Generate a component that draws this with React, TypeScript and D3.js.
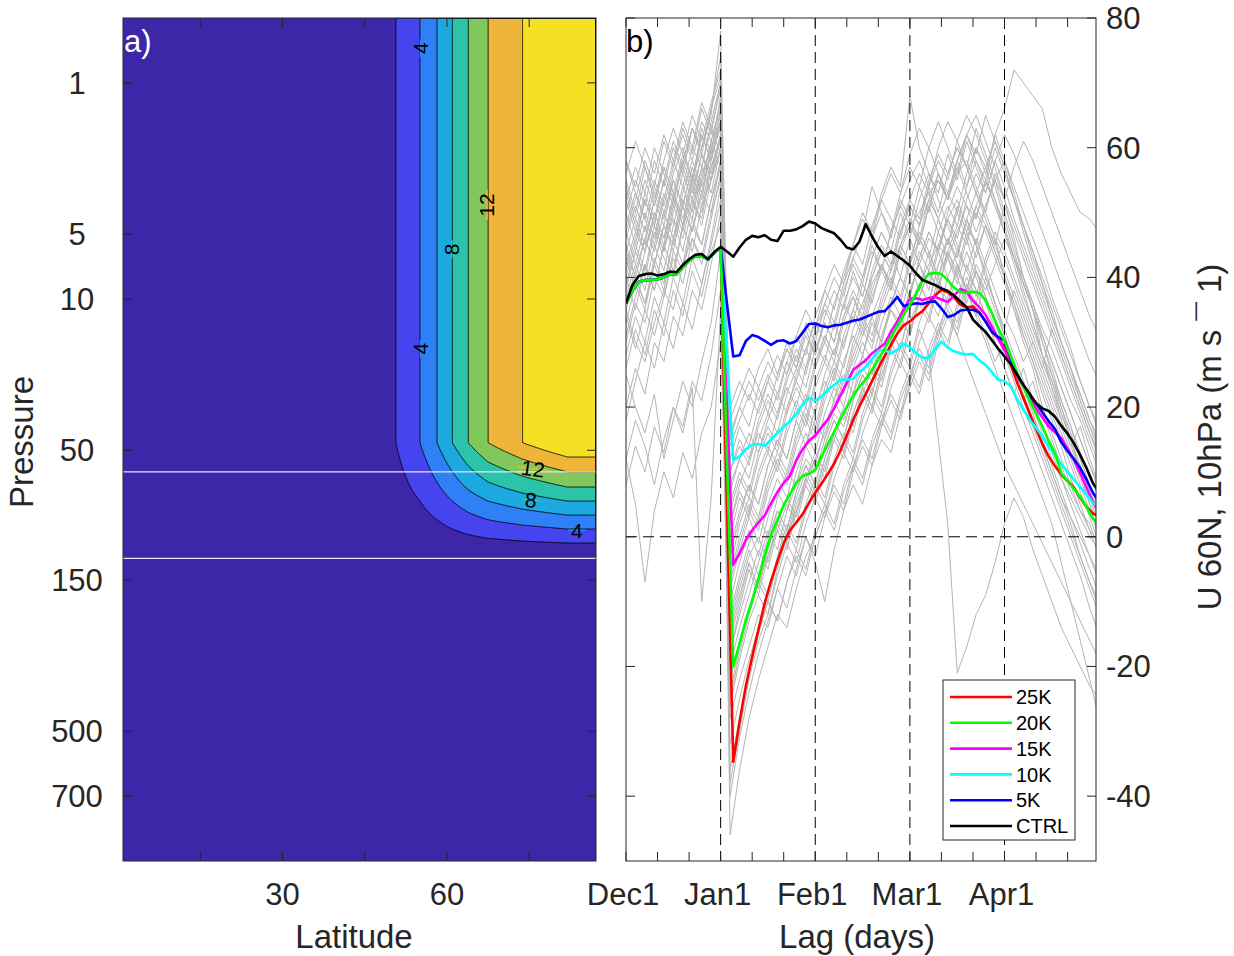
import React, { useMemo } from "react";
import * as d3 from "d3";

// ---------------- panel a: idealised heating (filled contours) ----------------
const contourLevels = [2, 4, 6, 8, 10, 12, 14];
const bandColors = ["#3e26a8", "#4544ee", "#2f80f7", "#1ca9df", "#2cc3ab", "#80c85c", "#efb43a", "#f5e024"];
// latitude where each contour stands vertical in the upper levels
const levelLatitudes = [50.7, 55.1, 58.2, 61.0, 63.9, 67.5, 73.8];
// model level where each contour meets the pole
const polarLevels = [24.29, 23.64, 23.0, 22.35, 21.7, 21.0, 20.31];
const fieldZeroLat = 45;
const poleLat = 82;
const poleValue = 16;
const fullLevel = 19.65;
const zeroLevel = 24.95;

const latTicks = [15, 30, 45, 60, 75];
const latLabels = [30, 60];
const pressureLabels = [1, 5, 10, 50, 150, 500, 700];
const pressureLevels = [3, 10, 13, 20, 26, 33, 36];
const markerLevels = [21, 25];

const contourLabels = [
  { value: 4, lat: 55.2, lev: 1.4, angle: -90 },
  { value: 4, lat: 55.2, lev: 15.3, angle: -90 },
  { value: 8, lat: 60.9, lev: 10.7, angle: -90 },
  { value: 12, lat: 67.3, lev: 8.65, angle: -90 },
  { value: 12, lat: 75.7, lev: 20.85, angle: 8 },
  { value: 8, lat: 75.3, lev: 22.3, angle: 4 },
  { value: 4, lat: 83.7, lev: 23.7, angle: 0 },
];

// ---------------- panel b: U 60N 10hPa ----------------
const monthDays = [-30, 0, 30, 60, 90];
const monthLabels = ["Dec1", "Jan1", "Feb1", "Mar1", "Apr1"];
const dayTicks = [-30, -20, -10, 0, 10, 20, 30, 40, 50, 60, 70, 80, 90, 100, 110];
const uTicks = [-40, -20, 0, 20, 40, 60, 80];

// coloured runs, every 2 days from day -30
const ctrlPre = [36.0, 38.8, 40.2, 40.5, 40.6, 40.3, 40.5, 40.9, 40.8, 41.9, 42.8, 43.5, 43.6, 42.8, 43.9, 44.7];
const forcedPre = [36.0, 38.0, 39.3, 39.6, 39.6, 39.7, 40.0, 40.5, 40.5, 41.6, 42.6, 43.3, 43.3, 42.8, 43.8, 44.6];
const ctrlPost = [
  44.0, 43.2, 44.6, 45.8, 46.4, 46.2, 46.5, 45.8, 45.6, 47.2,
  47.2, 47.4, 47.9, 48.6, 48.3, 47.6, 47.2, 46.8, 45.8, 44.6,
  44.3, 45.5, 48.2, 46.3, 44.6, 43.3, 44.0, 43.3, 42.6, 41.8,
  40.6, 39.6, 39.2, 38.8, 38.3, 37.9, 37.2, 36.3, 35.4, 33.5,
  32.5, 31.6, 30.3, 29.0, 27.8, 26.6, 25.0, 23.4, 22.0, 20.6,
  19.8, 19.4, 18.5, 17.1, 15.9, 14.4, 12.6, 10.6, 8.3, 6.9,
];
const k5Post = [
  36.0, 27.8, 28.0, 30.2, 31.1, 30.8, 30.2, 29.6, 30.2, 30.3,
  29.8, 30.2, 31.5, 32.8, 32.9, 32.5, 32.3, 32.6, 32.7, 33.0,
  33.3, 33.5, 33.9, 34.3, 34.7, 34.8, 35.8, 37.0, 35.6, 35.8,
  36.0, 35.9, 36.2, 36.3, 35.2, 33.9, 34.2, 34.9, 35.0, 35.0,
  34.6, 33.2, 31.6, 30.8, 30.3, 27.5, 25.0, 23.2, 21.8, 20.6,
  19.2, 17.8, 16.6, 14.6, 13.2, 12.0, 10.6, 8.8, 6.8, 5.4,
];
const k10Post = [
  28.0, 11.8, 12.4, 13.5, 14.2, 14.3, 14.0, 15.0, 16.0, 17.0,
  17.8, 19.0, 20.4, 21.4, 21.0, 21.6, 22.7, 23.4, 24.2, 24.2,
  24.4, 25.4, 26.2, 27.4, 28.7, 28.8, 28.3, 28.8, 29.8, 29.2,
  28.3, 27.6, 27.6, 29.0, 30.1, 29.2, 28.6, 28.3, 28.1, 28.2,
  27.2, 26.5, 25.4, 24.2, 24.0, 23.2, 21.2, 19.6, 18.0, 16.8,
  15.5, 13.9, 12.6, 11.2, 10.0, 8.8, 7.6, 6.5, 5.2, 4.6,
];
const k15Post = [
  20.0, -4.3, -2.6, -0.5, 1.0, 2.2, 3.3, 5.2, 6.9, 8.3,
  9.4, 11.8, 13.5, 14.8, 15.6, 16.9, 18.1, 19.8, 21.8, 23.7,
  25.7, 26.5, 27.2, 28.3, 29.0, 29.8, 31.6, 33.2, 35.0, 36.7,
  36.8, 36.5, 36.8, 37.0, 36.6, 36.2, 37.2, 38.2, 37.8, 36.4,
  35.4, 34.2, 32.4, 30.5, 28.8, 26.8, 25.0, 23.2, 21.4, 19.8,
  18.4, 17.0, 16.1, 15.2, 13.6, 11.8, 9.8, 7.6, 5.4, 3.9,
];
const k20Post = [
  12.0, -20.0, -16.5, -12.8, -9.9, -6.5, -2.8, 0.3, 2.6, 4.9,
  6.6, 8.3, 9.4, 9.7, 10.3, 12.4, 14.3, 16.2, 18.2, 20.0,
  21.8, 23.1, 24.3, 25.7, 27.4, 29.0, 30.8, 32.5, 34.2, 35.8,
  37.4, 39.5, 40.5, 40.7, 40.5, 39.6, 38.4, 37.8, 37.6, 37.8,
  37.6, 36.5, 34.5, 32.2, 30.2, 27.8, 25.3, 23.1, 21.0, 19.0,
  17.0, 14.8, 12.9, 9.8, 8.6, 7.4, 6.2, 4.6, 2.8, 2.0,
];
const k25Post = [
  5.0, -34.7, -28.5, -23.0, -18.5, -14.3, -10.2, -6.8, -3.8, -1.0,
  1.0, 2.2, 3.5, 5.2, 6.8, 8.2, 9.7, 11.3, 13.3, 15.6,
  18.0, 20.1, 22.0, 24.0, 26.0, 27.9, 29.6, 31.3, 32.6, 33.2,
  34.1, 34.8, 36.0, 37.2, 38.1, 37.7, 36.9, 35.8, 35.4, 35.5,
  34.6, 33.2, 31.6, 30.6, 29.2, 26.5, 23.8, 21.4, 19.0, 16.6,
  14.3, 12.4, 10.9, 9.6, 8.6, 7.6, 6.0, 4.6, 3.6, 3.2,
];

// ensemble members (grey), every 3 days from day -30
const greyMembers = [
  [42,47,44,50,46,53,49,56,52,60,64, -38,-30,-22,-16,-12,-5,0,4,9,12,16,20,24,27,31,34,38,42,45,48,50,53,55,52,56,58,54,50,46,40,35,30,26,20,16,12,8,4,2,-2],
  [50,45,52,48,55,51,58,54,62,58,66, -12,-6,-1,3,0,6,10,8,14,18,15,21,25,22,28,33,30,36,40,37,43,47,44,49,52,48,45,41,36,31,27,23,19,14,10,6,2,-3,-7,-10],
  [38,44,40,47,43,40,48,52,49,57,61, -5,2,6,3,9,13,10,16,20,17,23,27,24,30,34,31,37,41,45,42,48,52,56,53,58,62,65,61,57,52,46,40,35,28,23,18,14,10,6,3],
  [55,50,57,53,49,56,60,55,63,59,68, -20,-14,-9,-4,1,-2,4,8,12,10,15,19,17,22,26,24,30,35,33,38,42,46,44,49,45,41,46,42,38,34,31,27,30,26,22,18,14,17,12,8],
  [30,36,33,40,37,44,41,48,45,52,58, 8,12,16,13,18,22,19,25,29,33,30,36,40,45,42,48,52,49,46,52,56,53,49,45,50,46,41,37,33,29,25,21,24,19,15,11,7,4,1,-1],
  [45,40,36,42,48,44,51,47,55,61,57, -15,-9,-4,-8,-2,3,0,6,10,7,12,16,13,19,23,20,26,30,34,31,37,41,38,44,48,45,51,55,52,48,43,38,33,28,25,20,15,10,5,0],
  [20,26,22,30,27,34,31,38,35,42,50, 2,8,12,16,13,19,23,20,26,30,27,33,29,35,40,44,41,47,51,55,58,54,60,64,61,65,62,58,54,49,44,39,35,30,25,21,17,13,9,6],
  [48,53,49,45,52,58,54,60,57,64,70, -28,-22,-17,-12,-14,-8,-3,-6,0,-4,-10,-2,4,8,5,11,15,13,19,23,27,24,30,34,31,37,41,38,42,46,43,39,35,30,26,21,17,12,8,5],
  [35,30,27,33,38,35,42,46,43,50,55, 12,17,14,20,24,21,27,31,28,34,38,35,41,45,50,47,53,57,54,68,60,56,52,48,44,49,45,40,36,32,28,24,20,16,12,9,6,3,0,-2],
  [52,57,53,60,56,52,58,63,59,55,62, 15,20,24,21,25,22,27,24,29,26,31,28,34,37,33,39,42,38,44,40,46,43,39,35,31,27,23,19,15,11,8,5,2,-1,-4,-7,-10,-13,-16,-19],
  [12,18,14,8,15,20,17,24,21,28,38, -18,-12,-7,-2,-5,1,5,2,8,12,9,15,19,16,22,26,23,29,33,36,39,42,45,43,47,51,49,55,62,66,72,70,68,66,60,56,53,50,49,47],
  [40,35,42,38,45,49,46,52,48,55,60, -46,-36,-28,-22,-17,-12,-14,-8,-3,0,4,8,5,11,15,12,18,22,19,25,29,26,32,36,33,39,35,31,27,30,26,22,18,14,10,6,3,0,-3,-6],
  [44,49,45,52,57,53,48,55,60,65,78, 5,10,7,13,17,14,20,24,21,27,31,28,34,38,35,41,45,42,48,52,49,55,59,56,60,57,53,49,45,41,37,33,29,25,21,17,13,9,5,2],
  [25,20,16,22,12,18,24,20,27,33,44, -22,-16,-11,-7,-10,-4,1,-2,4,8,5,11,15,12,18,22,19,25,29,26,32,28,15,2,-21,-17,-12,-9,-4,2,6,3,-2,-6,-10,-14,-17,-20,-23,-25],
  [58,53,49,55,51,57,62,58,64,61,66, -2,4,8,5,11,15,12,18,22,19,25,29,26,32,36,40,44,41,47,51,48,54,58,55,61,57,63,59,55,50,45,40,36,31,27,23,19,15,11,8],
  [33,39,35,42,38,46,51,47,53,50,58, 20,24,21,26,29,25,30,27,33,30,36,40,37,43,47,54,50,46,52,49,45,51,47,43,39,44,40,36,32,28,24,20,16,12,8,4,0,-4,-8,-12],
  [12,5,-7,4,10,6,13,9,16,20,30, -10,-4,1,-3,3,7,4,10,14,11,17,21,18,24,28,25,31,35,32,38,42,39,45,49,46,52,56,53,58,62,59,55,51,47,43,39,35,31,27,24],
  [47,42,48,44,50,55,51,57,53,59,63, -25,-18,-12,-7,-3,1,-2,4,8,5,11,15,12,18,22,19,25,29,26,32,36,33,39,43,40,46,50,47,43,39,35,31,27,23,19,15,11,7,3,-1],
  [36,41,46,42,48,45,52,49,56,60,64, 10,15,12,18,22,19,25,29,26,32,36,33,39,43,40,46,50,47,53,57,54,60,64,60,56,62,58,54,60,56,52,48,44,40,36,32,28,24,20,17],
  [18,24,30,26,33,29,36,32,39,45,52, -14,-8,-3,0,-4,2,6,3,9,13,10,16,20,17,23,27,24,30,34,31,37,41,38,44,40,36,41,37,33,29,25,21,17,13,9,5,1,-3,-7,-11],
  [53,48,44,50,46,52,57,53,59,56,62, 0,6,3,9,13,10,16,20,17,23,27,24,30,34,31,37,41,38,44,48,45,51,55,52,58,62,59,65,61,57,52,47,42,38,34,30,26,22,18,15],
  [28,34,30,37,33,40,36,43,39,46,54, 18,22,26,23,27,24,29,26,31,28,33,30,36,33,39,36,42,39,45,42,38,44,40,36,42,38,34,40,36,32,38,34,30,26,32,28,24,20,16,13],
  [8,14,10,17,13,20,16,23,-10,6,35, -32,-25,-19,-14,-10,-13,-7,-3,-6,0,4,1,7,11,8,14,18,15,21,25,22,28,32,29,35,39,36,42,46,43,39,35,31,27,23,19,15,11,7,4],
  [40,45,41,48,44,51,47,54,50,57,62, -6,0,5,2,8,12,9,15,19,16,22,26,23,29,33,30,36,40,37,43,47,44,40,46,42,38,34,30,26,22,18,14,10,6,2,-4,-10,-16,-22,-28],
  [47,52,58,54,61,57,63,59,66,62,70, -16,-10,-4,-8,-1,4,1,7,11,8,14,18,15,21,25,22,28,32,29,35,39,36,42,46,43,49,53,50,56,52,48,44,40,36,32,28,24,20,16,12],
  [39,44,50,46,53,49,44,51,57,63,59, -26,-19,-13,-9,-12,-6,-1,-4,2,6,3,9,13,10,16,20,17,23,27,24,30,34,31,37,41,38,44,48,45,51,47,43,39,35,31,27,23,19,15,11],
  [56,61,57,52,58,63,59,65,61,67,72, 4,9,6,12,16,13,19,23,20,26,30,27,33,37,34,40,44,41,47,51,48,54,50,56,60,57,53,57,52,47,42,37,33,28,24,19,15,10,6,2],
  [43,38,44,49,45,52,48,55,51,58,64, -8,-2,3,-1,5,9,6,12,16,13,19,23,20,26,30,27,33,37,34,40,44,41,47,51,48,54,58,55,51,47,43,39,35,31,27,23,19,15,11,7],
  [26,32,28,35,31,38,34,41,37,44,48, -36,-28,-21,-15,-10,-13,-7,-2,-5,1,5,2,8,12,9,15,19,16,22,26,23,29,33,30,36,40,37,43,47,44,40,36,32,28,24,20,16,12,8,4],
  [50,55,51,58,54,60,56,63,59,66,74, 14,18,22,19,24,28,25,31,35,32,38,42,39,45,49,46,52,56,53,59,63,60,56,52,57,53,49,55,51,47,43,40,36,32,29,25,21,18,14,10],
  [34,29,35,31,37,43,39,46,42,49,56, -3,3,8,5,11,15,12,18,14,20,24,21,27,31,28,34,30,36,40,37,43,47,44,50,54,51,47,51,55,58,54,50,46,42,37,33,29,24,20,16],
  [46,51,47,54,50,46,53,58,54,61,67, -18,-11,-5,-9,-3,2,-1,5,9,6,12,16,13,19,23,20,26,30,27,33,37,34,40,44,41,47,51,48,44,40,36,31,27,22,18,14,9,5,1,-3],
  [58,54,60,56,62,58,64,60,67,63,69, 7,12,9,15,19,16,22,26,23,29,33,30,36,40,37,43,47,44,50,46,52,56,53,59,55,61,57,53,58,54,49,45,41,37,33,29,25,21,17,14],
  [31,37,42,38,45,41,48,44,51,55,60, -24,-17,-11,-6,-9,-3,2,-1,5,9,6,12,16,13,19,23,20,26,30,27,33,37,34,40,44,41,38,34,30,26,22,18,14,10,6,2,-2,-6,-11,-15],
  [44,40,46,52,48,55,51,57,53,60,65, 10,14,11,17,21,18,24,28,25,31,35,32,38,42,39,45,41,47,51,48,54,50,56,52,58,54,60,56,62,58,53,48,44,39,35,30,26,22,18,14],
  [37,42,38,45,41,48,54,50,57,53,60, -40,-31,-24,-18,-13,-8,-11,-5,0,-3,3,7,4,10,14,11,17,21,18,24,28,25,31,35,32,38,42,39,35,31,27,23,19,15,11,7,3,-1,-5,-9],
  [52,47,53,49,55,61,57,63,60,66,71, -7,-1,4,1,7,11,8,14,18,15,21,25,22,28,32,29,35,39,36,42,46,43,49,53,50,56,60,57,61,57,52,48,43,39,34,30,26,21,17,13],
  [41,46,52,48,44,50,56,52,59,55,62, 2,7,4,10,14,11,17,21,18,24,28,25,31,35,32,38,42,39,45,49,46,52,49,45,51,47,43,48,44,40,36,32,28,24,20,16,12,8,4,0],
  [54,49,55,51,57,53,59,55,62,58,64, -13,-7,-2,-6,0,4,1,7,11,8,14,18,15,21,25,22,28,32,29,35,39,36,42,46,43,49,45,51,55,52,57,61,58,54,50,46,42,38,34,31],
  [35,40,36,43,39,46,42,49,45,52,57, 16,20,17,23,19,25,29,26,32,28,34,38,35,41,37,43,47,44,40,46,42,38,44,40,36,42,38,34,30,26,22,26,21,17,13,9,5,1,-3,-7],
];

const runNames = ["25K", "20K", "15K", "10K", "5K", "CTRL"];
const runColors = ["#ff0000", "#00ff00", "#ff00ff", "#00ffff", "#0000ff", "#000000"];
const runValues = [
  [...forcedPre, ...k25Post],
  [...forcedPre, ...k20Post],
  [...forcedPre, ...k15Post],
  [...forcedPre, ...k10Post],
  [...forcedPre, ...k5Post],
  [...ctrlPre, ...ctrlPost],
];
const drawOrder = [0, 2, 3, 4, 1, 5];

const FONT = "'Liberation Sans', Arial, Helvetica, sans-serif";
const AX = "#262626";

const pa = { left: 123, right: 596, top: 18, bottom: 861 };
const pb = { left: 626, right: 1096, top: 18, bottom: 861 };

export default function App() {
  const xLat = d3.scaleLinear().domain([0.9, 87.2]).range([pa.left, pa.right]);
  const yLev = d3.scaleLinear().domain([0, 39]).range([pa.top, pa.bottom]);
  const xDay = d3.scaleLinear().domain([-30, 119]).range([pb.left, pb.right]);
  const yU = d3.scaleLinear().domain([-50, 80]).range([pb.bottom, pb.top]);

  const contourShapes = useMemo(() => {
    const aOfLat = d3
      .scaleLinear()
      .domain([fieldZeroLat, ...levelLatitudes, poleLat])
      .range([0, ...contourLevels, poleValue])
      .clamp(true);
    const polar = polarLevels
      .map((l, i) => ({ l, v: contourLevels[i] / poleValue }))
      .sort((a, b) => a.l - b.l);
    const bOfLevel = d3
      .scaleLinear()
      .domain([fullLevel, ...polar.map((d) => d.l), zeroLevel])
      .range([1, ...polar.map((d) => d.v), 0])
      .clamp(true);
    const nx = Math.round(pa.right - pa.left);
    const ny = Math.round(pa.bottom - pa.top);
    const values: number[] = new Array(nx * ny);
    for (let j = 0; j < ny; j++) {
      const b = bOfLevel(yLev.invert(pa.top + j + 0.5));
      for (let i = 0; i < nx; i++) {
        values[j * nx + i] = aOfLat(xLat.invert(pa.left + i + 0.5)) * b;
      }
    }
    const polys = d3.contours().size([nx, ny]).thresholds(contourLevels)(values);
    const path = d3.geoPath();
    return polys.map((p) => path(p as any) || "");
  }, []);

  const greyLine = d3
    .line<number>()
    .x((_, i) => xDay(-30 + 3 * i))
    .y((d) => yU(d));
  const runLine = d3
    .line<number>()
    .x((_, i) => xDay(-30 + 2 * i))
    .y((d) => yU(d));

  const tick = 9;
  const tickFont = 31;
  const labelFont = 33;

  return (
    <svg
      width={1234}
      height={956}
      style={{ position: "absolute", left: 0, top: 0, fontFamily: FONT, background: "#fff" }}
    >
      <defs>
        <clipPath id="clipA">
          <rect x={pa.left} y={pa.top} width={pa.right - pa.left} height={pa.bottom - pa.top} />
        </clipPath>
        <clipPath id="clipB">
          <rect x={pb.left} y={pb.top} width={pb.right - pb.left} height={pb.bottom - pb.top} />
        </clipPath>
      </defs>

      {/* ---------------- panel a ---------------- */}
      <g clipPath="url(#clipA)">
        <rect x={pa.left} y={pa.top} width={pa.right - pa.left} height={pa.bottom - pa.top} fill={bandColors[0]} />
        <g transform={`translate(${pa.left},${pa.top})`}>
          {contourShapes.map((d, i) => (
            <path key={"f" + i} d={d} fill={bandColors[i + 1]} stroke="none" />
          ))}
          {contourShapes.map((d, i) => (
            <path key={"s" + i} d={d} fill="none" stroke="#000" strokeWidth={0.9} />
          ))}
        </g>
        {markerLevels.map((l) => (
          <line key={l} x1={pa.left} x2={pa.right} y1={yLev(l)} y2={yLev(l)} stroke="#e6e4f2" strokeWidth={1.2} />
        ))}
        {contourLabels.map((c, i) => {
          const x = xLat(c.lat);
          const y = yLev(c.lev);
          const w = String(c.value).length * 12 + 6;
          return (
            <g key={i} transform={`rotate(${c.angle},${x},${y})`}>
              {/* break in the contour line under the label */}
              <rect x={x - w / 2} y={y - 0.8} width={w} height={1.6} fill={bandColors[c.value / 2]} />
              <text x={x} y={y} textAnchor="middle" dominantBaseline="central" fontSize={21} fill="#000">
                {c.value}
              </text>
            </g>
          );
        })}
      </g>
      <rect x={pa.left} y={pa.top} width={pa.right - pa.left} height={pa.bottom - pa.top} fill="none" stroke={AX} strokeWidth={1} />
      {latTicks.map((t) => (
        <g key={t} stroke={AX}>
          <line x1={xLat(t)} x2={xLat(t)} y1={pa.bottom} y2={pa.bottom - tick} />
          <line x1={xLat(t)} x2={xLat(t)} y1={pa.top} y2={pa.top + tick} />
        </g>
      ))}
      {latLabels.map((t) => (
        <text key={t} x={xLat(t)} y={905} textAnchor="middle" fontSize={tickFont} fill={AX}>
          {t}
        </text>
      ))}
      {pressureLevels.map((l, i) => (
        <g key={l}>
          <line x1={pa.left} x2={pa.left + tick} y1={yLev(l)} y2={yLev(l)} stroke={AX} />
          <line x1={pa.right} x2={pa.right - tick} y1={yLev(l)} y2={yLev(l)} stroke={AX} />
          <text x={77} y={yLev(l)} dy="0.35em" textAnchor="middle" fontSize={tickFont} fill={AX}>
            {pressureLabels[i]}
          </text>
        </g>
      ))}
      <text x={354} y={948} textAnchor="middle" fontSize={labelFont} fill={AX}>
        Latitude
      </text>
      <text
        transform={`translate(33,442) rotate(-90)`}
        textAnchor="middle"
        fontSize={labelFont}
        fill={AX}
      >
        Pressure
      </text>
      <text x={124} y={52} fontSize={tickFont} fill="#fff">
        a)
      </text>

      {/* ---------------- panel b ---------------- */}
      <rect x={pb.left} y={pb.top} width={pb.right - pb.left} height={pb.bottom - pb.top} fill="#fff" />
      <g clipPath="url(#clipB)">
        {greyMembers.map((m, i) => (
          <path key={i} d={greyLine(m) || ""} fill="none" stroke="#b5b5b5" strokeWidth={1} />
        ))}
        {monthDays.slice(1).map((d) => (
          <line key={d} x1={xDay(d)} x2={xDay(d)} y1={pb.top} y2={pb.bottom} stroke="#000" strokeWidth={1} strokeDasharray="11,6" />
        ))}
        <line x1={pb.left} x2={pb.right} y1={yU(0)} y2={yU(0)} stroke="#000" strokeWidth={1} strokeDasharray="11,6" />
        {drawOrder.map((k) => (
          <path
            key={k}
            d={runLine(runValues[k]) || ""}
            fill="none"
            stroke={runColors[k]}
            strokeWidth={2.6}
            strokeLinejoin="round"
          />
        ))}
      </g>
      <rect x={pb.left} y={pb.top} width={pb.right - pb.left} height={pb.bottom - pb.top} fill="none" stroke={AX} strokeWidth={1} />
      {dayTicks.map((d) => (
        <g key={d} stroke={AX}>
          <line x1={xDay(d)} x2={xDay(d)} y1={pb.bottom} y2={pb.bottom - tick} />
          <line x1={xDay(d)} x2={xDay(d)} y1={pb.top} y2={pb.top + tick} />
        </g>
      ))}
      {monthDays.map((d, i) => (
        <text key={d} x={xDay(d) - 3} y={905} textAnchor="middle" fontSize={tickFont} fill={AX}>
          {monthLabels[i]}
        </text>
      ))}
      {uTicks.map((u) => (
        <g key={u}>
          <line x1={pb.left} x2={pb.left + tick} y1={yU(u)} y2={yU(u)} stroke={AX} />
          <line x1={pb.right} x2={pb.right - tick} y1={yU(u)} y2={yU(u)} stroke={AX} />
          <text x={1106} y={yU(u)} dy="0.35em" fontSize={tickFont} fill={AX}>
            {u}
          </text>
        </g>
      ))}
      <text x={857} y={948} textAnchor="middle" fontSize={labelFont} fill={AX}>
        Lag (days)
      </text>
      <text transform={`translate(1221,437) rotate(-90)`} textAnchor="middle" fontSize={labelFont} fill={AX}>
        U 60N, 10hPa (m s ¯ 1)
      </text>
      <text x={626} y={52} fontSize={tickFont} fill="#000">
        b)
      </text>

      {/* legend */}
      <g>
        <rect x={943} y={680} width={132} height={160} fill="#fff" stroke={AX} strokeWidth={1} />
        {runNames.map((n, i) => {
          const y = 697 + i * 25.8;
          return (
            <g key={n}>
              <line x1={950} x2={1012} y1={y} y2={y} stroke={runColors[i]} strokeWidth={2.6} />
              <text x={1016} y={y} dy="0.36em" fontSize={20} fill="#000">
                {n}
              </text>
            </g>
          );
        })}
      </g>
    </svg>
  );
}
